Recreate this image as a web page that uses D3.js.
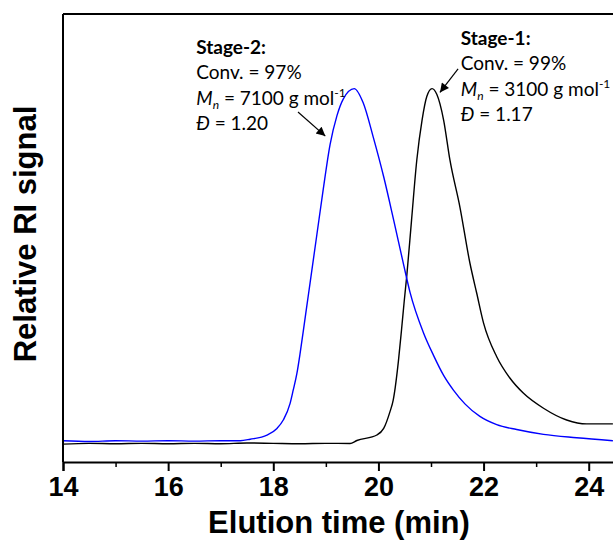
<!DOCTYPE html>
<html>
<head>
<meta charset="utf-8">
<script src="https://cdn.jsdelivr.net/npm/d3@7/dist/d3.min.js"></script>
<style>
  html, body { margin: 0; padding: 0; background: #fff; }
  svg { display: block; }
</style>
</head>
<body>
<svg id="chart" width="613" height="545"></svg>
<script>
// ---------------- data ----------------
// Stage-2 (blue) trace: elution time (min) and relative RI signal
const stage2Time = [14.0, 14.5, 15.0, 15.5, 16.0, 16.5, 17.0, 17.37, 17.56, 17.88, 18.07, 18.19, 18.32, 18.38, 18.45, 18.51, 18.57, 18.64, 18.70, 18.83, 18.95, 19.08, 19.21, 19.33, 19.54, 19.71, 19.90, 20.10, 20.29, 20.48, 20.60, 20.86, 21.05, 21.24, 21.43, 21.65, 21.93, 22.25, 22.63, 23.14, 23.77, 24.46];
const stage2Signal = [0.057, 0.055, 0.057, 0.056, 0.057, 0.056, 0.057, 0.057, 0.061, 0.072, 0.090, 0.1125, 0.157, 0.193, 0.238, 0.291, 0.35, 0.42, 0.48, 0.61, 0.73, 0.85, 0.927, 0.972, 1.0, 0.962, 0.871, 0.764, 0.648, 0.528, 0.455, 0.345, 0.285, 0.232, 0.192, 0.155, 0.122, 0.100, 0.087, 0.074, 0.065, 0.057];

// Stage-1 (black) trace
const stage1Time = [14.0, 14.5, 15.0, 15.5, 16.0, 16.5, 17.0, 17.5, 18.0, 18.5, 19.0, 19.46, 19.59, 19.97, 20.10, 20.22, 20.28, 20.32, 20.38, 20.44, 20.49, 20.54, 20.63, 20.73, 20.83, 20.92, 21.02, 21.11, 21.24, 21.36, 21.55, 21.74, 21.87, 22.00, 22.25, 22.50, 22.76, 23.14, 23.58, 23.96, 24.46];
const stage1Signal = [0.048, 0.050, 0.049, 0.050, 0.049, 0.050, 0.049, 0.051, 0.050, 0.049, 0.050, 0.0496, 0.0576, 0.0723, 0.090, 0.135, 0.165, 0.20, 0.27, 0.355, 0.43, 0.50, 0.648, 0.809, 0.916, 0.979, 1.0, 0.985, 0.916, 0.809, 0.683, 0.533, 0.452, 0.372, 0.282, 0.225, 0.184, 0.144, 0.1125, 0.102, 0.102];

const majorTicks = [14, 16, 18, 20, 22, 24];
const minorTicks = [15, 17, 19, 21, 23];
const xDomain = [14, 24.5];
const yDomain = [0, 1.2];

const xTitle = "Elution time (min)";
const yTitle = "Relative RI signal";

// annotation anchors (data units)
const stage2Label = { t: 16.535, s: 1.093, title: "Stage-2:", conv: "Conv. = 97%", mn: "7100", d: "1.20" };
const stage1Label = { t: 21.567, s: 1.117, title: "Stage-1:", conv: "Conv. = 99%", mn: "3100", d: "1.17" };
const arrows = [
  { t1: 18.47, s1: 0.9376, t2: 18.99, s2: 0.873 },
  { t1: 21.515, s1: 1.053, t2: 21.17, s2: 0.990 }
];

// ---------------- drawing ----------------
const svg = d3.select("#chart");
const padL = 63, padR = 615, padT = 14, padB = 462;

const x = d3.scaleLinear().domain(xDomain).range([padL, padR]);
const y = d3.scaleLinear().domain(yDomain).range([padB, padT]);

const defs = svg.append("defs");
defs.append("clipPath").attr("id", "clip")
  .append("rect").attr("x", padL).attr("y", padT).attr("width", padR - padL).attr("height", padB - padT);

const line = d3.line().x(d => x(d[0])).y(d => y(d[1])).curve(d3.curveMonotoneX);

const s1 = stage1Time.map((t, i) => [t, stage1Signal[i]]);
const s2 = stage2Time.map((t, i) => [t, stage2Signal[i]]);

const plot = svg.append("g").attr("clip-path", "url(#clip)");
plot.append("path").datum(s1).attr("d", line)
  .attr("fill", "none").attr("stroke", "#000").attr("stroke-width", 1.4);
plot.append("path").datum(s2).attr("d", line)
  .attr("fill", "none").attr("stroke", "#0000ff").attr("stroke-width", 1.4);

// frame (left and top)
svg.append("line").attr("x1", padL).attr("x2", padL).attr("y1", padT).attr("y2", padB)
  .attr("stroke", "#000").attr("stroke-width", 2);
svg.append("line").attr("x1", padL).attr("x2", padR).attr("y1", padT).attr("y2", padT)
  .attr("stroke", "#000").attr("stroke-width", 2);

// bottom axis
const axMajor = svg.append("g").attr("transform", `translate(0,${padB})`)
  .call(d3.axisBottom(x).tickValues(majorTicks).tickSize(9).tickPadding(6).tickFormat(d3.format("d")));
axMajor.select(".domain").attr("stroke-width", 2);
axMajor.selectAll(".tick line").attr("stroke-width", 2);
axMajor.selectAll(".tick text")
  .attr("font-family", "Liberation Sans, Arial, sans-serif")
  .attr("font-size", 27).attr("font-weight", "bold").attr("fill", "#000");

const axMinor = svg.append("g").attr("transform", `translate(0,${padB})`)
  .call(d3.axisBottom(x).tickValues(minorTicks).tickSize(5).tickFormat(""));
axMinor.select(".domain").remove();
axMinor.selectAll(".tick line").attr("stroke-width", 1.5);

// axis titles
svg.append("text")
  .attr("x", (padL + padR) / 2).attr("y", 533)
  .attr("text-anchor", "middle")
  .attr("font-family", "Liberation Sans, Arial, sans-serif")
  .attr("font-size", 31).attr("font-weight", "bold")
  .text(xTitle);

svg.append("text")
  .attr("transform", `translate(36,234) rotate(-90)`)
  .attr("text-anchor", "middle")
  .attr("font-family", "Liberation Sans, Arial, sans-serif")
  .attr("font-size", 31).attr("font-weight", "bold")
  .text(yTitle);

// annotations
const annFont = "Lato, 'Open Sans', sans-serif";
const annSize = 19;
const lh = 25.3;
function block(lab) {
  const x0 = x(lab.t), y0 = y(lab.s);
  const g = svg.append("g").attr("font-family", annFont).attr("font-size", annSize).attr("fill", "#000");
  g.append("text").attr("x", x0).attr("y", y0).attr("font-weight", "bold").text(lab.title);
  g.append("text").attr("x", x0).attr("y", y0 + lh).text(lab.conv);
  const t3 = g.append("text").attr("x", x0).attr("y", y0 + 2 * lh);
  t3.append("tspan").attr("font-style", "italic").text("M");
  t3.append("tspan").attr("font-style", "italic").attr("font-size", 12).attr("dy", 4).text("n");
  t3.append("tspan").attr("dy", -4).text(" = " + lab.mn + " g mol");
  t3.append("tspan").attr("font-size", 12).attr("dy", -8).text("-1");
  const t4 = g.append("text").attr("x", x0).attr("y", y0 + 3 * lh);
  t4.append("tspan").attr("font-style", "italic").text("\u0110");
  t4.append("tspan").text(" = " + lab.d);
}
block(stage2Label);
block(stage1Label);

defs.append("marker")
  .attr("id", "ah").attr("viewBox", "0 0 10 10").attr("refX", 10).attr("refY", 5)
  .attr("markerWidth", 12).attr("markerHeight", 9).attr("markerUnits", "userSpaceOnUse")
  .attr("orient", "auto")
  .append("path").attr("d", "M0,0 L10,5 L0,10 Z").attr("fill", "#000");

svg.selectAll(".arrow").data(arrows).enter().append("line")
  .attr("class", "arrow")
  .attr("x1", d => x(d.t1)).attr("y1", d => y(d.s1))
  .attr("x2", d => x(d.t2)).attr("y2", d => y(d.s2))
  .attr("stroke", "#000").attr("stroke-width", 1.2)
  .attr("marker-end", "url(#ah)");
</script>
</body>
</html>
